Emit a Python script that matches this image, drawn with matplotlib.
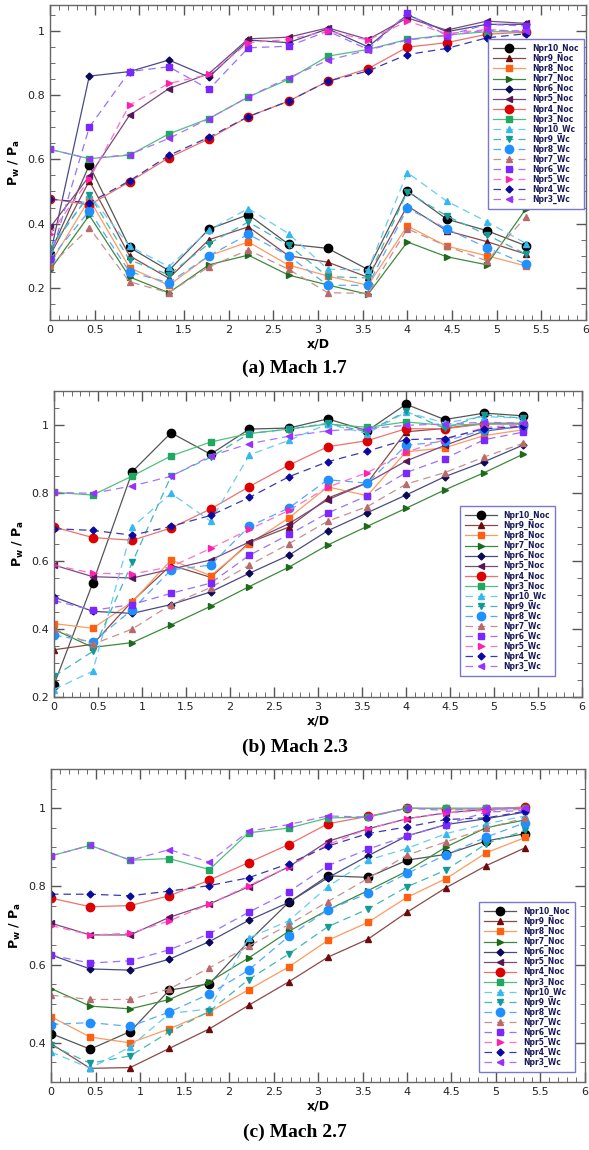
import numpy as np
import matplotlib.pyplot as plt
from matplotlib.ticker import MultipleLocator

# x/D stations
xd = [0, 0.44, 0.89, 1.33, 1.78, 2.22, 2.67, 3.11, 3.56, 4.0, 4.44, 4.89, 5.33]

labels = ['Npr10_Noc', 'Npr9_Noc', 'Npr8_Noc', 'Npr7_Noc', 'Npr6_Noc', 'Npr5_Noc', 'Npr4_Noc', 'Npr3_Noc',
          'Npr10_Wc', 'Npr9_Wc', 'Npr8_Wc', 'Npr7_Wc', 'Npr6_Wc', 'Npr5_Wc', 'Npr4_Wc', 'Npr3_Wc']

# ---- Mach 1.7 ----
m17_noc10 = [0.307, 0.582, 0.326, 0.254, 0.383, 0.428, 0.336, 0.323, 0.257, 0.502, 0.414, 0.378, 0.331]
m17_noc9 = [0.30, 0.533, 0.30, 0.23, 0.35, 0.39, 0.30, 0.28, 0.233, 0.455, 0.378, 0.344, 0.305]
m17_noc8 = [0.274, 0.476, 0.263, 0.208, 0.30, 0.343, 0.271, 0.237, 0.208, 0.393, 0.33, 0.30, 0.268]
m17_noc7 = [0.256, 0.426, 0.234, 0.185, 0.272, 0.302, 0.24, 0.209, 0.18, 0.343, 0.297, 0.272, 0.447]
m17_noc6 = [0.30, 0.859, 0.873, 0.909, 0.856, 0.971, 0.963, 1.006, 0.95, 1.05, 0.997, 1.02, 1.02]
m17_noc5 = [0.388, 0.548, 0.737, 0.82, 0.867, 0.975, 0.98, 1.009, 0.973, 1.04, 1.002, 1.03, 1.023]
m17_noc4 = [0.478, 0.458, 0.53, 0.605, 0.664, 0.733, 0.781, 0.843, 0.882, 0.949, 0.963, 0.989, 0.996]
m17_noc3 = [0.631, 0.602, 0.613, 0.679, 0.727, 0.794, 0.849, 0.921, 0.942, 0.973, 0.987, 0.997, 0.997]
m17_wc10 = [0.325, 0.49, 0.33, 0.266, 0.38, 0.447, 0.369, 0.258, 0.256, 0.559, 0.47, 0.406, 0.338]
m17_wc9 = [0.32, 0.49, 0.287, 0.241, 0.338, 0.405, 0.333, 0.235, 0.231, 0.499, 0.424, 0.365, 0.305]
m17_wc8 = [0.289, 0.44, 0.25, 0.216, 0.30, 0.367, 0.30, 0.208, 0.208, 0.448, 0.384, 0.325, 0.274]
m17_wc7 = [0.268, 0.387, 0.219, 0.185, 0.266, 0.318, 0.258, 0.185, 0.183, 0.384, 0.33, 0.284, 0.422]
m17_wc6 = [0.29, 0.70, 0.873, 0.888, 0.818, 0.947, 0.952, 0.999, 0.942, 1.054, 0.985, 1.02, 1.015]
m17_wc5 = [0.367, 0.538, 0.769, 0.836, 0.864, 0.963, 0.973, 0.999, 0.971, 1.03, 0.991, 1.004, 0.997]
m17_wc4 = [0.476, 0.465, 0.533, 0.612, 0.669, 0.733, 0.781, 0.843, 0.875, 0.926, 0.945, 0.978, 0.991]
m17_wc3 = [0.631, 0.602, 0.615, 0.665, 0.727, 0.794, 0.854, 0.908, 0.94, 0.971, 0.985, 1.002, 0.999]

# ---- Mach 2.3 ----
m23_noc10 = [0.236, 0.535, 0.863, 0.977, 0.914, 0.988, 0.991, 1.018, 0.983, 1.061, 1.016, 1.035, 1.027]
m23_noc9 = [0.339, 0.355, 0.482, 0.588, 0.552, 0.654, 0.70, 0.785, 0.83, 0.98, 0.99, 1.005, 1.005]
m23_noc8 = [0.416, 0.402, 0.48, 0.603, 0.557, 0.65, 0.727, 0.818, 0.792, 0.921, 0.933, 0.969, 0.986]
m23_noc7 = [0.399, 0.346, 0.36, 0.412, 0.467, 0.525, 0.582, 0.647, 0.702, 0.755, 0.809, 0.86, 0.914]
m23_noc6 = [0.494, 0.452, 0.446, 0.472, 0.509, 0.564, 0.617, 0.689, 0.742, 0.794, 0.848, 0.892, 0.941]
m23_noc5 = [0.588, 0.554, 0.55, 0.576, 0.603, 0.656, 0.71, 0.78, 0.83, 0.894, 0.94, 0.982, 0.996]
m23_noc4 = [0.70, 0.669, 0.661, 0.697, 0.753, 0.819, 0.882, 0.936, 0.954, 0.989, 0.989, 1.003, 1.003]
m23_noc3 = [0.802, 0.794, 0.85, 0.909, 0.95, 0.975, 0.988, 1.003, 0.993, 1.009, 0.999, 1.003, 1.003]
m23_wc10 = [0.222, 0.276, 0.70, 0.799, 0.717, 0.912, 0.955, 1.003, 0.975, 1.038, 1.006, 1.025, 1.02]
m23_wc9 = [0.261, 0.334, 0.596, 0.85, 0.905, 0.975, 0.988, 1.005, 0.98, 1.04, 0.99, 1.03, 1.02]
m23_wc8 = [0.382, 0.362, 0.457, 0.574, 0.588, 0.702, 0.756, 0.839, 0.829, 0.94, 0.952, 0.986, 0.996]
m23_wc7 = [0.40, 0.355, 0.40, 0.472, 0.522, 0.588, 0.651, 0.717, 0.76, 0.826, 0.86, 0.906, 0.946]
m23_wc6 = [0.484, 0.455, 0.472, 0.505, 0.535, 0.617, 0.678, 0.741, 0.792, 0.86, 0.901, 0.957, 0.979]
m23_wc5 = [0.588, 0.564, 0.562, 0.583, 0.637, 0.693, 0.749, 0.817, 0.86, 0.92, 0.957, 0.993, 1.001]
m23_wc4 = [0.695, 0.69, 0.676, 0.702, 0.734, 0.787, 0.848, 0.892, 0.923, 0.957, 0.96, 0.989, 0.996]
m23_wc3 = [0.802, 0.799, 0.821, 0.849, 0.909, 0.945, 0.967, 0.983, 0.989, 0.999, 1.003, 1.008, 1.006]

# ---- Mach 2.7 ----
m27_noc10 = [0.424, 0.384, 0.429, 0.535, 0.551, 0.659, 0.759, 0.827, 0.823, 0.867, 0.882, 0.916, 0.935]
m27_noc9 = [0.398, 0.335, 0.337, 0.386, 0.436, 0.496, 0.556, 0.619, 0.665, 0.734, 0.797, 0.853, 0.899]
m27_noc8 = [0.467, 0.415, 0.40, 0.436, 0.479, 0.536, 0.594, 0.662, 0.708, 0.772, 0.82, 0.886, 0.925]
m27_noc7 = [0.539, 0.494, 0.487, 0.511, 0.556, 0.617, 0.685, 0.74, 0.789, 0.839, 0.901, 0.95, 0.97]
m27_noc6 = [0.625, 0.589, 0.586, 0.614, 0.659, 0.713, 0.759, 0.822, 0.878, 0.929, 0.958, 0.973, 0.99]
m27_noc5 = [0.706, 0.676, 0.676, 0.721, 0.755, 0.799, 0.85, 0.915, 0.947, 0.973, 0.988, 0.997, 1.0]
m27_noc4 = [0.77, 0.748, 0.751, 0.776, 0.816, 0.861, 0.907, 0.96, 0.979, 1.0, 0.998, 0.998, 1.003]
m27_noc3 = [0.878, 0.905, 0.867, 0.871, 0.843, 0.937, 0.949, 0.975, 0.977, 1.0, 1.0, 1.0, 1.0]
m27_wc10 = [0.377, 0.335, 0.39, 0.475, 0.487, 0.668, 0.712, 0.799, 0.867, 0.897, 0.935, 0.96, 0.98]
m27_wc9 = [0.394, 0.348, 0.367, 0.428, 0.481, 0.562, 0.627, 0.697, 0.742, 0.799, 0.842, 0.909, 0.943]
m27_wc8 = [0.447, 0.452, 0.442, 0.479, 0.525, 0.586, 0.672, 0.74, 0.782, 0.833, 0.881, 0.926, 0.963]
m27_wc7 = [0.522, 0.511, 0.511, 0.538, 0.592, 0.647, 0.702, 0.761, 0.82, 0.88, 0.914, 0.949, 0.975]
m27_wc6 = [0.624, 0.604, 0.61, 0.638, 0.679, 0.734, 0.786, 0.853, 0.895, 0.929, 0.958, 0.99, 0.994]
m27_wc5 = [0.70, 0.676, 0.68, 0.712, 0.755, 0.802, 0.85, 0.907, 0.947, 0.973, 0.988, 0.994, 0.997]
m27_wc4 = [0.78, 0.78, 0.776, 0.788, 0.802, 0.822, 0.858, 0.903, 0.935, 0.952, 0.971, 0.975, 0.992]
m27_wc3 = [0.878, 0.905, 0.867, 0.894, 0.862, 0.941, 0.958, 0.98, 0.977, 1.0, 0.994, 1.0, 1.0]

mach17 = [m17_noc10, m17_noc9, m17_noc8, m17_noc7, m17_noc6, m17_noc5, m17_noc4, m17_noc3,
          m17_wc10, m17_wc9, m17_wc8, m17_wc7, m17_wc6, m17_wc5, m17_wc4, m17_wc3]
mach23 = [m23_noc10, m23_noc9, m23_noc8, m23_noc7, m23_noc6, m23_noc5, m23_noc4, m23_noc3,
          m23_wc10, m23_wc9, m23_wc8, m23_wc7, m23_wc6, m23_wc5, m23_wc4, m23_wc3]
mach27 = [m27_noc10, m27_noc9, m27_noc8, m27_noc7, m27_noc6, m27_noc5, m27_noc4, m27_noc3,
          m27_wc10, m27_wc9, m27_wc8, m27_wc7, m27_wc6, m27_wc5, m27_wc4, m27_wc3]

# marker colours / line colours / markers
mcols = ['#000000', '#6e0a0a', '#ff6010', '#1c6a1c', '#0a0a55', '#55165a', '#dd0000', '#20a860',
         '#33b8f0', '#139a98', '#1e90ff', '#b86a6a', '#7a28ff', '#ff20b0', '#0a0aa0', '#9a30ff']
lcols = ['#555555', '#8a4a4a', '#ff9a60', '#3c8a3c', '#4a4a8a', '#7a4a80', '#f07070', '#50c080',
         '#66ccf5', '#40b8b5', '#55aaff', '#c89090', '#9a70ff', '#ff70c8', '#3a3ab0', '#b070ff']
marks = ['o', '^', 's', '>', 'D', '<', 'o', 's', '^', 'v', 'o', '^', 's', '>', 'D', '<']
msizes = [6, 4.5, 4.5, 4.5, 3.5, 4.5, 6, 4.5, 4.5, 4.5, 6, 4.5, 4.5, 4.5, 3.5, 4.5]

fig = plt.figure(figsize=(5.89, 11.5), dpi=100)

panels = [
    (mach17, [0.0849, 0.7217, 0.910, 0.2739], (0.1, 1.08), [0.2, 0.4, 0.6, 0.8, 1.0], (0.996, 0.892), '(a) Mach 1.7', 0.672),
    (mach23, [0.0917, 0.3939, 0.8964, 0.2661], (0.2, 1.1), [0.2, 0.4, 0.6, 0.8, 1.0], (0.949, 0.624), '(b) Mach 2.3', 0.343),
    (mach27, [0.0866, 0.0591, 0.9066, 0.2722], (0.3, 1.1), [0.4, 0.6, 0.8, 1.0], (0.981, 0.575), '(c) Mach 2.7', 0.008),
]

for data, rect, ylim, yt, anchor, cap, capy in panels:
    ax = fig.add_axes(rect)
    for i in range(16):
        ls = '-' if i < 8 else (0, (6, 4))
        ax.plot(xd, data[i], linestyle=ls, color=lcols[i], lw=0.9, marker=marks[i], ms=msizes[i],
                mfc=mcols[i], mec=mcols[i], label=labels[i])
    ax.set_xlim(0, 6)
    ax.set_ylim(*ylim)
    ax.set_xticks([0, 0.5, 1, 1.5, 2, 2.5, 3, 3.5, 4, 4.5, 5, 5.5, 6])
    ax.set_xticklabels(['0', '0.5', '1', '1.5', '2', '2.5', '3', '3.5', '4', '4.5', '5', '5.5', '6'])
    ax.set_yticks(yt)
    ax.set_yticklabels(['%g' % v for v in yt])
    ax.xaxis.set_minor_locator(MultipleLocator(0.1))
    ax.yaxis.set_minor_locator(MultipleLocator(0.05))
    ax.tick_params(which='both', direction='in', top=True, right=True, colors='#555555',
                   labelcolor='#222222', labelsize=8)
    ax.tick_params(which='major', length=7, width=1)
    ax.tick_params(which='minor', length=3.5, width=0.6)
    for s in ax.spines.values():
        s.set_color('#666666')
        s.set_linewidth(1.0)
    ax.set_xlabel('x/D', fontsize=9, fontweight='bold', labelpad=2)
    ax.set_ylabel(r'$\mathbf{P_w\ /\ P_a}$', fontsize=9, labelpad=4)
    leg = ax.legend(loc='upper right', bbox_to_anchor=anchor, frameon=True, framealpha=1,
                    fancybox=False, handlelength=4.2, handletextpad=0.9, labelspacing=0.12,
                    borderpad=0.65, borderaxespad=0, prop={'weight': 'bold', 'size': 5.5})
    leg.get_frame().set_edgecolor('#7878d0')
    leg.get_frame().set_linewidth(1.0)
    for t in leg.get_texts():
        t.set_color('#1a1a5a')
    fig.text(0.5, capy, cap, ha='center', va='bottom', fontsize=14, fontweight='bold',
             family='Liberation Serif')

fig.savefig('out.png', dpi=100)
